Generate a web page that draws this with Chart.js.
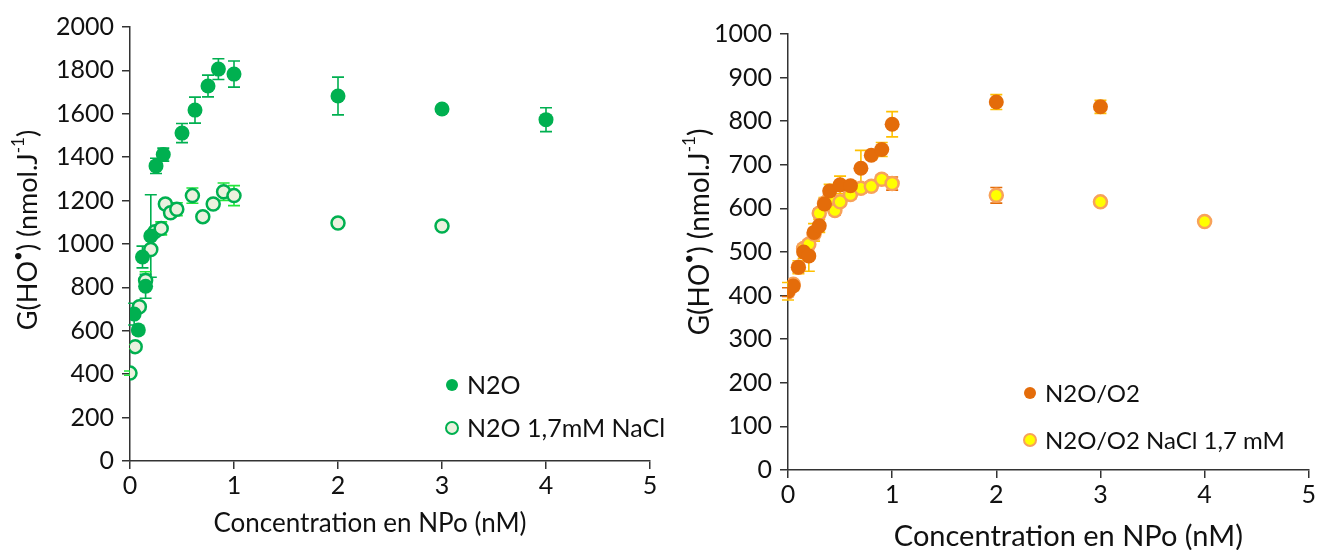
<!DOCTYPE html>
<html>
<head>
<meta charset="utf-8">
<script src="https://cdn.jsdelivr.net/npm/chart.js@4.4.1/dist/chart.umd.min.js"></script>
<style>
  html, body { margin: 0; padding: 0; background: #fff; }
  #leftChart { position: absolute; left: 0; top: 0; }
  #rightChart { position: absolute; left: 660px; top: 0; }
</style>
</head>
<body>
<canvas id="leftChart" width="690" height="550"></canvas>
<canvas id="rightChart" width="658" height="550"></canvas>
<script>
// --- left panel: N2O ---
const n2oX   = [0.04, 0.08, 0.12, 0.15, 0.2, 0.25, 0.32, 0.5, 0.625, 0.75, 0.85, 1, 2, 3, 4];
const n2oY   = [677, 604, 940, 805, 1037, 1360, 1412, 1511, 1617, 1728, 1806, 1783, 1682, 1622, 1573];
const n2oErr = [50, 20, 50, 55, 190, 35, 30, 44, 60, 50, 48, 60, 87, 10, 55];

const n2oNaclX   = [0, 0.05, 0.09, 0.15, 0.2, 0.24, 0.3, 0.34, 0.39, 0.45, 0.6, 0.7, 0.8, 0.9, 1, 2, 3];
const n2oNaclY   = [405, 527, 711, 832, 975, 1057, 1072, 1184, 1144, 1160, 1223, 1126, 1184, 1241, 1223, 1097, 1083];
const n2oNaclErr = [10, 10, 10, 40, 15, 15, 30, 20, 20, 30, 35, 10, 20, 40, 46, 10, 10];

// --- right panel: N2O/O2 ---
const o2X   = [0, 0.05, 0.1, 0.15, 0.2, 0.25, 0.3, 0.35, 0.4, 0.5, 0.6, 0.7, 0.8, 0.9, 1, 2, 3];
const o2Y   = [410, 422, 465, 500, 491, 545, 560, 610, 640, 654, 652, 692, 722, 735, 793, 844, 833];
const o2Err = [20, 10, 15, 15, 35, 20, 15, 15, 15, 20, 10, 41, 10, 16, 29, 17, 15];

const o2NaclX   = [0, 0.05, 0.1, 0.15, 0.2, 0.25, 0.3, 0.35, 0.4, 0.45, 0.5, 0.6, 0.7, 0.8, 0.9, 1, 2, 3, 4];
const o2NaclY   = [408, 426, 465, 508, 518, 541, 589, 612, 624, 595, 615, 632, 646, 651, 667, 657, 630, 615, 570];
const o2NaclErr = [10, 8, 10, 10, 10, 10, 10, 10, 10, 10, 10, 10, 10, 10, 10, 15, 18, 8, 5];

const xTicks = [0, 1, 2, 3, 4, 5];
const xTitle = 'Concentration en NPo (nM)';

const FONT = 'Lato, "Liberation Sans", sans-serif';

function points(xs, ys) {
    return xs.map((x, i) => ({ x: x, y: ys[i] }));
}

// error bars drawn under the points
const errorBars = {
    id: 'errorBars',
    beforeDatasetsDraw(chart) {
        const ctx = chart.ctx;
        const xs = chart.scales.x, ys = chart.scales.y;
        chart.data.datasets.forEach(ds => {
            if (!ds.err) return;
            ctx.save();
            ctx.strokeStyle = ds.errColor;
            ctx.lineWidth = 1.6;
            ds.data.forEach((p, i) => {
                const e = ds.err[i];
                const px = xs.getPixelForValue(p.x);
                const top = ys.getPixelForValue(p.y + e);
                const bot = ys.getPixelForValue(p.y - e);
                ctx.beginPath();
                ctx.moveTo(px, top); ctx.lineTo(px, bot);
                ctx.moveTo(px - 6, top); ctx.lineTo(px + 6, top);
                ctx.moveTo(px - 6, bot); ctx.lineTo(px + 6, bot);
                ctx.stroke();
            });
            ctx.restore();
        });
    }
};

// axis titles (with superscripts) and the inside legend
const decorations = {
    id: 'decorations',
    afterDraw(chart, args, opts) {
        const ctx = chart.ctx;
        const area = chart.chartArea;
        ctx.save();
        ctx.fillStyle = '#111';
        ctx.textBaseline = 'middle';

        // x title
        ctx.font = opts.titleSize + 'px ' + FONT;
        ctx.textAlign = 'center';
        ctx.fillText(xTitle, (area.left + area.right) / 2 + opts.xTitleShift, opts.xTitleY);

        // y title, rotated, built from pieces
        const parts = [
            { t: 'G(HO', sup: false },
            { t: '•', sup: true },
            { t: ') (nmol.J', sup: false },
            { t: '-1', sup: true },
            { t: ')', sup: false }
        ];
        const big = opts.yTitleSize + 'px ' + FONT;
        const small = Math.round(opts.yTitleSize * 0.62) + 'px ' + FONT;
        let total = 0;
        parts.forEach(p => { ctx.font = p.sup ? small : big; p.w = ctx.measureText(p.t).width; total += p.w; });
        ctx.translate(opts.yTitleX, opts.yTitleY);
        ctx.rotate(-Math.PI / 2);
        ctx.textAlign = 'left';
        let cx = -total / 2;
        parts.forEach(p => {
            ctx.font = p.sup ? small : big;
            ctx.fillText(p.t, cx, p.sup ? -opts.yTitleSize * 0.36 : 0);
            cx += p.w;
        });
        ctx.setTransform(1, 0, 0, 1, 0, 0);

        // legend
        ctx.font = opts.legendSize + 'px ' + FONT;
        ctx.textAlign = 'left';
        chart.data.datasets.forEach((ds, i) => {
            const ly = opts.legendY + i * opts.legendGap;
            ctx.beginPath();
            ctx.arc(opts.legendX, ly, 6, 0, Math.PI * 2);
            ctx.fillStyle = ds.backgroundColor;
            ctx.fill();
            if (ds.borderWidth) {
                ctx.lineWidth = 2;
                ctx.strokeStyle = ds.borderColor;
                ctx.stroke();
            }
            ctx.fillStyle = '#111';
            ctx.fillText(ds.label, opts.legendX + 15, ly + 1);
        });
        ctx.restore();
    }
};

function makeChart(id, datasets, yMax, yStep, lay) {
    const tickFont = { family: FONT, size: lay.tickSize };
    return new Chart(document.getElementById(id), {
        type: 'scatter',
        data: { datasets: datasets },
        options: {
            responsive: false,
            animation: false,
            layout: { padding: { left: 0, top: lay.top, right: lay.right, bottom: 0 } },
            plugins: {
                legend: { display: false },
                tooltip: { enabled: false },
                decorations: lay.deco
            },
            scales: {
                x: {
                    type: 'linear', min: 0, max: 5,
                    afterBuildTicks: s => { s.ticks = xTicks.map(v => ({ value: v })); },
                    ticks: { color: '#111', font: tickFont, padding: 2, callback: v => String(v) },
                    grid: { drawOnChartArea: false, drawTicks: true, tickLength: 8, color: '#333', lineWidth: 1.5 },
                    border: { color: '#333', width: 1.5 },
                    afterFit: s => { s.height = lay.xh; }
                },
                y: {
                    type: 'linear', min: 0, max: yMax,
                    ticks: { stepSize: yStep, color: '#111', font: tickFont, padding: 8, callback: v => String(v) },
                    grid: { drawOnChartArea: false, drawTicks: true, tickLength: 8, color: '#333', lineWidth: 1.5 },
                    border: { color: '#333', width: 1.5 },
                    afterFit: s => { s.width = lay.yw; }
                }
            }
        },
        plugins: [errorBars, decorations]
    });
}

makeChart('leftChart', [
    {
        label: 'N2O',
        data: points(n2oX, n2oY),
        err: n2oErr, errColor: '#00B050',
        backgroundColor: '#00B050', borderColor: '#00B050', borderWidth: 0,
        pointRadius: 7.5
    },
    {
        label: 'N2O 1,7mM NaCl',
        data: points(n2oNaclX, n2oNaclY),
        err: n2oNaclErr, errColor: '#22E63A',
        backgroundColor: '#EBF1DE', borderColor: '#00B050', borderWidth: 2.5,
        pointRadius: 6.5
    }
], 2000, 200, {
    top: 27, right: 40, xh: 89, yw: 130, tickSize: 25,
    deco: { titleSize: 26, yTitleSize: 27, xTitleShift: -20, xTitleY: 524, yTitleX: 28, yTitleY: 230,
            legendSize: 25, legendX: 452, legendY: 385, legendGap: 43 }
});

makeChart('rightChart', [
    {
        label: 'N2O/O2',
        data: points(o2X, o2Y),
        err: o2Err, errColor: '#FFC000',
        backgroundColor: '#E46C0A', borderColor: '#E46C0A', borderWidth: 0,
        pointRadius: 7.5
    },
    {
        label: 'N2O/O2 NaCl 1,7 mM',
        data: points(o2NaclX, o2NaclY),
        err: o2NaclErr, errColor: '#E46C0A',
        backgroundColor: '#FFFF00', borderColor: '#F8A25A', borderWidth: 2.5,
        pointRadius: 6.5
    }
], 1000, 100, {
    top: 34, right: 7, xh: 80, yw: 128, tickSize: 25,
    deco: { titleSize: 29, yTitleSize: 28, xTitleShift: 20, xTitleY: 537, yTitleX: 40, yTitleY: 232,
            legendSize: 24, legendX: 370, legendY: 393, legendGap: 47 }
});
</script>
</body>
</html>
